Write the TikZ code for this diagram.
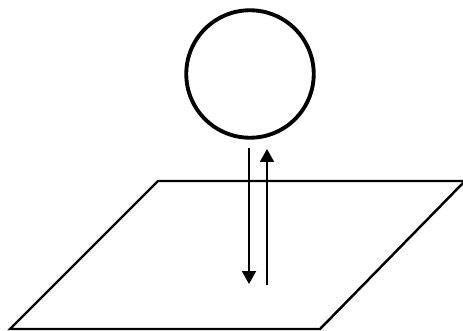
\documentclass[tikz,border=0pt]{standalone}
\usepackage{tikz}
\usetikzlibrary{arrows.meta, positioning}

\begin{document}
\begin{tikzpicture}[
  x=0.02cm, y=-0.02cm,
  ballstyle/.style={draw, circle, line width=2.2pt, minimum size=2.55cm, inner sep=0pt},
  plane/.style={line width=1.4pt, line join=miter},
  arr/.style={line width=1.1pt, -{Triangle[length=0.26cm, width=0.28cm]}}
]
  \useasboundingbox (0,0) rectangle (463,331);
  % ball
  \node[ballstyle] (ball) at (250,74) {};
  % plane
  \coordinate (tl) at (158,181);
  \coordinate (tr) at (465,181);
  \coordinate (br) at (320,329);
  \coordinate (bl) at (10,329);
  \draw[plane] (tl) -- (tr) -- (br) -- (bl) -- cycle;
  % arrows
  \coordinate (down1) at (249,148);
  \coordinate (down2) at (249,284);
  \coordinate (up1) at (267,285);
  \coordinate (up2) at (267,149);
  \draw[arr] (down1) -- (down2);
  \draw[arr] (up1) -- (up2);
\end{tikzpicture}
\end{document}
